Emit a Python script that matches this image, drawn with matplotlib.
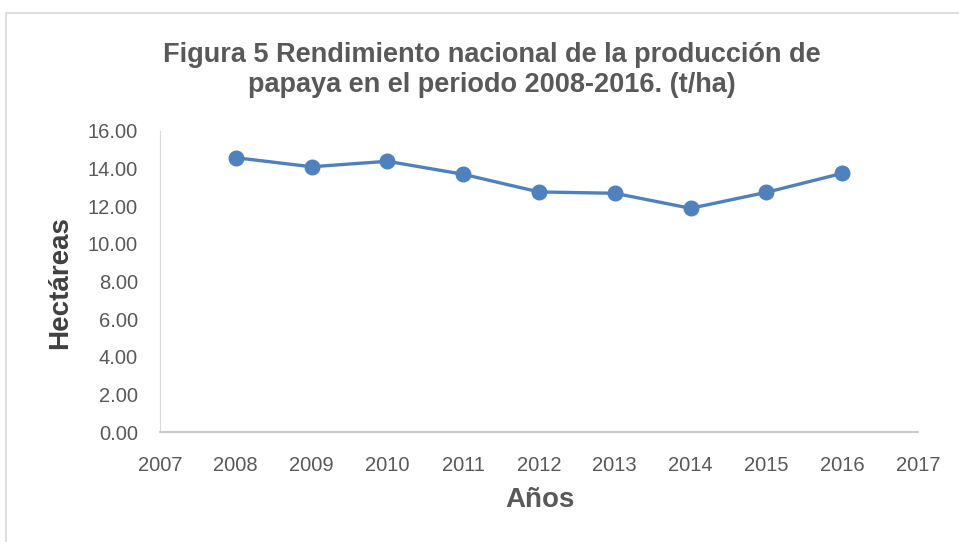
import matplotlib.pyplot as plt
from matplotlib.patches import Rectangle

years = [2008, 2009, 2010, 2011, 2012, 2013, 2014, 2015, 2016]
yields = [14.58, 14.10, 14.39, 13.70, 12.76, 12.69, 11.89, 12.74, 13.75]
xticks = list(range(2007, 2018))
yticks = [0, 2, 4, 6, 8, 10, 12, 14, 16]

plt.rcParams['font.family'] = ['Liberation Sans', 'DejaVu Sans']
gray = "#595959"
W, H = 959, 542

fig = plt.figure(figsize=(W / 100, H / 100), dpi=100)
ax = fig.add_axes([160 / W, 1 - 432 / H, 758 / W, 301 / H])

# chart frame like the office export
fig.patches.append(Rectangle((6 / W, -0.1), 1.2, 1 - 13 / H + 0.1,
                             transform=fig.transFigure, fill=False,
                             edgecolor="#d9d9d9", linewidth=1.2))

ax.plot(years, yields, color="#4F81BD", linewidth=2.4, marker="o",
        markersize=10.5, markerfacecolor="#4F81BD", markeredgecolor="#4F81BD")

ax.set_xlim(2007, 2017)
ax.set_ylim(0, 16)
ax.set_xticks(xticks)
ax.set_yticks(yticks)
ax.set_yticklabels([f"{v:.2f}" for v in yticks])
ax.tick_params(length=0, labelsize=14.5, colors=gray)
ax.tick_params(axis="y", pad=16)
ax.tick_params(axis="x", pad=17)

for s in ["top", "right"]:
    ax.spines[s].set_visible(False)
ax.spines["left"].set_color("#d9d9d9")
ax.spines["bottom"].set_color("#bfbfbf")
ax.spines["bottom"].set_linewidth(1.2)

fig.text(540 / W, 1 - 500 / H, "Años", ha="center", va="center",
         fontsize=20, fontweight="bold", color=gray)
fig.text(60 / W, 1 - 283 / H, "Hectáreas", ha="center", va="center", rotation=90,
         fontsize=20, fontweight="bold", color="#404040")

fig.text(492 / W, 1 - 70 / H, "Figura 5 Rendimiento nacional de la producción de\npapaya en el periodo 2008-2016. (t/ha)",
         ha="center", va="center", fontsize=19.5, fontweight="bold", color=gray,
         linespacing=1.2)

fig.savefig("out.png", dpi=100)
